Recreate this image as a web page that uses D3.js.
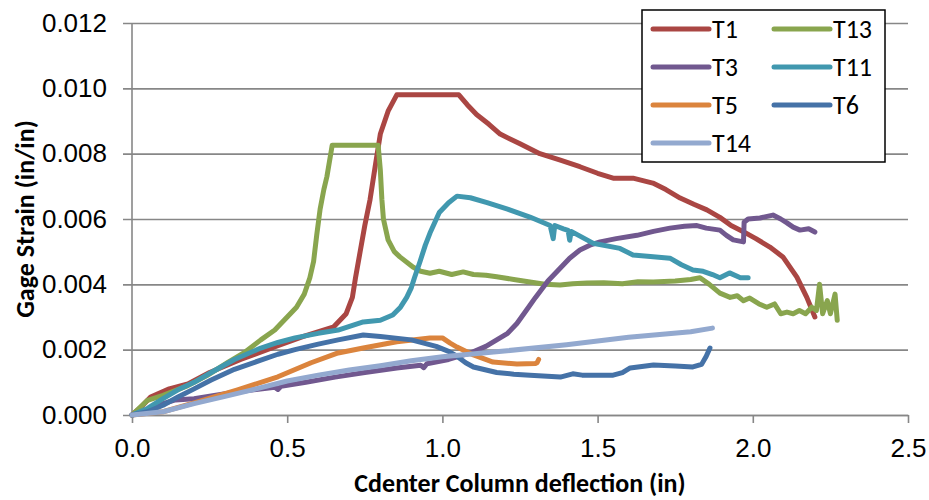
<!DOCTYPE html>
<html>
<head>
<meta charset="utf-8">
<script src="https://cdn.jsdelivr.net/npm/d3@7"></script>
<style>
  html, body { margin: 0; padding: 0; background: #fff; }
  svg { display: block; font-family: Carlito, Calibri, Lato, "Open Sans", sans-serif; }
</style>
</head>
<body>
<svg id="chart" width="929" height="500"></svg>
<script>
// Strain gage readings vs. center column deflection, [deflection (in), strain (in/in)]
const t1 = [[0,0],[0.03,0.00025],[0.06,0.00055],[0.12,0.0008],[0.18,0.00095],[0.25,0.0013],[0.35,0.0017],[0.47,0.00212],[0.55,0.0024],[0.65,0.0027],[0.69,0.0031],[0.71,0.0036],[0.72,0.0042],[0.735,0.005],[0.75,0.0058],[0.767,0.0066],[0.785,0.0077],[0.80,0.0086],[0.825,0.0093],[0.853,0.0098],[1.053,0.0098],[1.08,0.0095],[1.11,0.0092],[1.15,0.0089],[1.186,0.0086],[1.25,0.0083],[1.314,0.0080],[1.38,0.0078],[1.443,0.0076],[1.5,0.0074],[1.55,0.00725],[1.614,0.00725],[1.678,0.0071],[1.72,0.0069],[1.766,0.00664],[1.81,0.00645],[1.852,0.00628],[1.894,0.00605],[1.93,0.0058],[1.968,0.00562],[2.01,0.0054],[2.055,0.00514],[2.097,0.00484],[2.142,0.00422],[2.174,0.0036],[2.2,0.0030]];
const t13 = [[0,0],[0.05,0.00045],[0.1,0.0006],[0.18,0.0009],[0.24,0.0012],[0.31,0.00162],[0.36,0.0019],[0.415,0.0023],[0.46,0.0026],[0.5,0.0030],[0.53,0.0033],[0.555,0.0037],[0.573,0.0042],[0.585,0.0047],[0.595,0.0055],[0.606,0.0063],[0.618,0.0069],[0.628,0.0073],[0.645,0.00826],[0.793,0.00826],[0.80,0.0075],[0.805,0.0066],[0.81,0.006],[0.825,0.00536],[0.845,0.005],[0.863,0.00484],[0.905,0.00453],[0.93,0.0044],[0.96,0.00434],[0.99,0.0044],[1.03,0.0043],[1.067,0.00438],[1.1,0.0043],[1.14,0.00428],[1.175,0.00423],[1.23,0.00415],[1.282,0.00407],[1.33,0.004],[1.379,0.00398],[1.42,0.00402],[1.466,0.00404],[1.52,0.00405],[1.58,0.00402],[1.63,0.00408],[1.679,0.00407],[1.75,0.0041],[1.8,0.00415],[1.83,0.0042],[1.86,0.004],[1.894,0.00373],[1.927,0.0036],[1.95,0.00365],[1.97,0.0035],[1.99,0.00358],[2.02,0.0034],[2.045,0.0033],[2.07,0.0034],[2.09,0.0031],[2.11,0.00315],[2.13,0.0031],[2.15,0.0032],[2.17,0.0031],[2.19,0.0033],[2.205,0.0032],[2.215,0.004],[2.225,0.0031],[2.24,0.0035],[2.25,0.0031],[2.265,0.0037],[2.272,0.0029]];
const t3 = [[0,0],[0.05,0.00015],[0.1,0.00035],[0.14,0.00046],[0.2,0.0005],[0.31,0.00067],[0.4,0.00078],[0.46,0.00085],[0.47,0.00078],[0.48,0.00088],[0.56,0.001],[0.654,0.00116],[0.75,0.0013],[0.853,0.00144],[0.93,0.00152],[0.94,0.00145],[0.95,0.00157],[1.02,0.0017],[1.09,0.0019],[1.14,0.0021],[1.175,0.0023],[1.21,0.0025],[1.24,0.0028],[1.27,0.0032],[1.30,0.0036],[1.34,0.0041],[1.38,0.0045],[1.41,0.0048],[1.443,0.00505],[1.475,0.0052],[1.508,0.0053],[1.56,0.0054],[1.627,0.0055],[1.68,0.00562],[1.733,0.00572],[1.78,0.00578],[1.82,0.0058],[1.85,0.00572],[1.894,0.00566],[1.915,0.0055],[1.937,0.00536],[1.97,0.0053],[1.972,0.0059],[1.985,0.006],[2.023,0.00603],[2.065,0.00612],[2.09,0.006],[2.11,0.00588],[2.13,0.00575],[2.152,0.00566],[2.18,0.0057],[2.2,0.0056]];
const t11 = [[0,0],[0.05,0.0002],[0.1,0.0005],[0.148,0.00077],[0.2,0.001],[0.255,0.0013],[0.33,0.0017],[0.415,0.00205],[0.47,0.00222],[0.525,0.00236],[0.6,0.0025],[0.664,0.0026],[0.745,0.00285],[0.8,0.0029],[0.84,0.00306],[0.865,0.0033],[0.885,0.0036],[0.90,0.0039],[0.91,0.0042],[0.928,0.0047],[0.945,0.0052],[0.96,0.00557],[0.99,0.0062],[1.02,0.0065],[1.047,0.0067],[1.09,0.00665],[1.144,0.0065],[1.21,0.0063],[1.282,0.00606],[1.347,0.0058],[1.357,0.0054],[1.362,0.0058],[1.39,0.0057],[1.405,0.00565],[1.41,0.00535],[1.415,0.00562],[1.485,0.00526],[1.572,0.0051],[1.614,0.0049],[1.67,0.00485],[1.733,0.0048],[1.77,0.0046],[1.807,0.00444],[1.84,0.0044],[1.87,0.0043],[1.894,0.0042],[1.925,0.00435],[1.96,0.0042],[1.985,0.0042]];
const t5 = [[0,0],[0.1,0.0001],[0.2,0.00037],[0.34,0.00077],[0.47,0.00117],[0.577,0.0016],[0.664,0.0019],[0.745,0.00205],[0.853,0.00224],[0.96,0.00236],[1.0,0.00236],[1.025,0.0022],[1.047,0.00208],[1.1,0.00184],[1.163,0.00162],[1.24,0.00156],[1.3,0.00158],[1.305,0.0016],[1.31,0.0017]];
const t6 = [[0,0],[0.05,0.0001],[0.1,0.0003],[0.148,0.00055],[0.2,0.0008],[0.255,0.00107],[0.33,0.0014],[0.415,0.00168],[0.47,0.00186],[0.525,0.002],[0.6,0.00217],[0.664,0.0023],[0.745,0.00245],[0.8,0.0024],[0.9,0.0023],[0.98,0.0021],[1.02,0.00195],[1.047,0.0018],[1.075,0.0016],[1.1,0.00147],[1.175,0.0013],[1.23,0.00125],[1.282,0.00122],[1.38,0.00116],[1.42,0.00126],[1.45,0.00122],[1.55,0.00122],[1.58,0.0013],[1.605,0.00144],[1.68,0.00153],[1.75,0.0015],[1.807,0.00147],[1.835,0.00155],[1.85,0.0018],[1.862,0.00205]];
const t14 = [[0,0],[0.1,0.0001],[0.2,0.00035],[0.3,0.00057],[0.4,0.0008],[0.5,0.00104],[0.6,0.00122],[0.7,0.00138],[0.8,0.00151],[0.9,0.00166],[1.0,0.00178],[1.2,0.00196],[1.4,0.00215],[1.6,0.00238],[1.8,0.00255],[1.87,0.00266]];

const seriesNames = ["T1", "T13", "T3", "T11", "T5", "T6", "T14"];
const seriesData = [t1, t13, t3, t11, t5, t6, t14];
const seriesColors = ["#AA4643", "#89A54E", "#71588F", "#4198AF", "#DB843D", "#4572A7", "#93A9CF"];

const xTicks = [0, 0.5, 1.0, 1.5, 2.0, 2.5];
const yTicks = [0, 0.002, 0.004, 0.006, 0.008, 0.010, 0.012];
const xTitle = "Cdenter Column deflection (in)";
const yTitle = "Gage Strain (in/in)";

const svg = d3.select("#chart");
const plotLeft = 132, plotRight = 908, plotTop = 23, plotBottom = 415;

const x = d3.scaleLinear().domain([0, 2.5]).range([plotLeft, plotRight]);
const y = d3.scaleLinear().domain([0, 0.012]).range([plotBottom, plotTop]);

const axisColor = "#878787";
const fontSize = 26;

// horizontal gridlines with outward ticks
const yAxis = d3.axisLeft(y).tickValues(yTicks).tickFormat(d3.format(".3f"))
  .tickSizeInner(-(plotRight - plotLeft)).tickSizeOuter(0).tickPadding(25);
const gy = svg.append("g").attr("transform", `translate(${plotLeft},0)`).call(yAxis);
gy.select(".domain").remove();
gy.selectAll(".tick line").attr("x1", -9).attr("stroke", axisColor).attr("stroke-width", 1.6);
gy.selectAll(".tick text").attr("font-size", fontSize).attr("fill", "#000");

const xAxis = d3.axisBottom(x).tickValues(xTicks).tickFormat(d3.format(".1f"))
  .tickSizeInner(8).tickSizeOuter(0).tickPadding(16);
const gx = svg.append("g").attr("transform", `translate(0,${plotBottom})`).call(xAxis);
gx.select(".domain").attr("stroke", axisColor).attr("stroke-width", 1.6);
gx.selectAll(".tick line").attr("stroke", axisColor).attr("stroke-width", 1.6);
gx.selectAll(".tick text").attr("font-size", fontSize).attr("fill", "#000");

// vertical axis line
svg.append("line").attr("x1", plotLeft).attr("x2", plotLeft).attr("y1", plotTop).attr("y2", plotBottom)
  .attr("stroke", axisColor).attr("stroke-width", 1.6);

// series
const line = d3.line().x(d => x(d[0])).y(d => y(d[1]));
const g = svg.append("g");
seriesData.forEach((data, i) => {
  g.append("path").datum(data).attr("d", line)
    .attr("fill", "none").attr("stroke", seriesColors[i])
    .attr("stroke-width", 5).attr("stroke-linejoin", "round").attr("stroke-linecap", "round");
});

// axis titles
svg.append("text").attr("x", (plotLeft + plotRight) / 2).attr("y", 492)
  .attr("text-anchor", "middle").attr("font-size", fontSize).attr("font-weight", "bold").text(xTitle);
svg.append("text").attr("transform", `translate(34,${(plotTop + plotBottom) / 2}) rotate(-90)`)
  .attr("text-anchor", "middle").attr("font-size", fontSize).attr("font-weight", "bold").text(yTitle);

// legend, two columns filled row by row
const lg = svg.append("g");
lg.append("rect").attr("x", 642).attr("y", 10).attr("width", 243).attr("height", 152)
  .attr("fill", "#fff").attr("stroke", "#000").attr("stroke-width", 1.5);
seriesNames.forEach((name, i) => {
  const col = i % 2, row = Math.floor(i / 2);
  const lx = 653 + col * 121, ly = 29 + row * 38;
  lg.append("line").attr("x1", lx).attr("x2", lx + 56).attr("y1", ly).attr("y2", ly)
    .attr("stroke", seriesColors[i]).attr("stroke-width", 5).attr("stroke-linecap", "round");
  lg.append("text").attr("x", lx + 59).attr("y", ly).attr("dy", "0.35em")
    .attr("font-size", fontSize).text(name);
});
</script>
</body>
</html>
